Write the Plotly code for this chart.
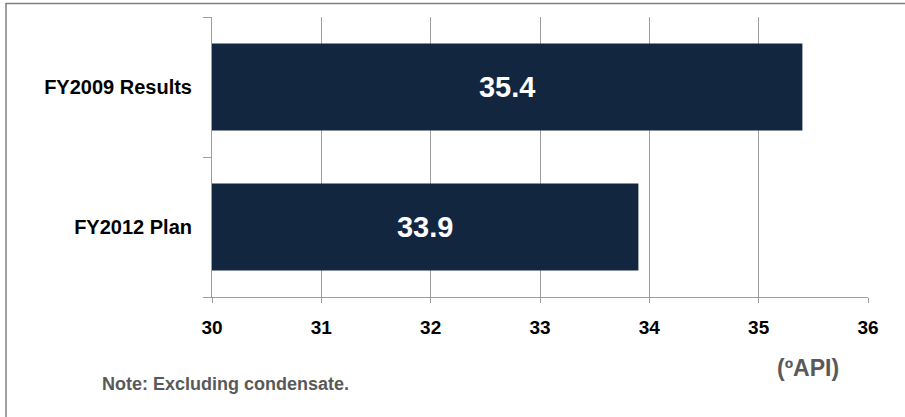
import plotly.graph_objects as go

categories = ["FY2012 Plan", "FY2009 Results"]
values = [33.9, 35.4]
value_labels = ["33.9", "35.4"]
x_ticks = [30, 31, 32, 33, 34, 35, 36]

FONT = "Liberation Sans, Arial, sans-serif"

fig = go.Figure()
fig.add_trace(go.Bar(
    y=categories,
    x=[v - 30 for v in values],
    base=30,
    orientation="h",
    width=0.62,
    marker=dict(color="#13263F", line=dict(width=0)),
    text=value_labels,
    textposition="inside",
    insidetextanchor="middle",
    textfont=dict(family=FONT, size=29, color="white", weight="bold"),
    hoverinfo="skip",
))

fig.update_layout(
    width=905, height=417,
    margin=dict(l=212, r=37, t=17, b=120),
    paper_bgcolor="white", plot_bgcolor="white",
    showlegend=False,
    font=dict(family=FONT),
    xaxis=dict(
        range=[30, 36], tickvals=x_ticks,
        showgrid=True, gridcolor="#9E9E9E", gridwidth=1,
        showline=True, linecolor="#9E9E9E", linewidth=1,
        ticks="outside", ticklen=5, tickcolor="#9E9E9E",
        tickfont=dict(family=FONT, size=19, color="black", weight="bold"),
        ticklabelstandoff=8,
        zeroline=False,
    ),
    yaxis=dict(
        showgrid=False,
        showline=True, linecolor="#9E9E9E", linewidth=1,
        ticks="outside", ticklen=8, tickcolor="#9E9E9E",
        tickson="boundaries",
        tickfont=dict(family=FONT, size=20, color="black", weight="bold"),
        ticklabelstandoff=15,
    ),
    bargap=0.38,
)

fig.add_shape(type="rect", xref="paper", yref="paper",
              x0=-0.314, x1=1.06, y0=-0.44, y1=1.048,
              line=dict(color="#808080", width=1.5), layer="below")

fig.add_annotation(xref="paper", yref="paper", x=-0.171, y=-0.31,
                   xanchor="left", yanchor="middle", showarrow=False,
                   text="Note: Excluding condensate.",
                   font=dict(family=FONT, size=18, color="#595959", weight="bold"))
fig.add_annotation(xref="paper", yref="paper", x=0.858, y=-0.254,
                   xanchor="left", yanchor="middle", showarrow=False,
                   text="(ºAPI)",
                   font=dict(family=FONT, size=23, color="#595959", weight="bold"))

fig.write_html("out.html")
